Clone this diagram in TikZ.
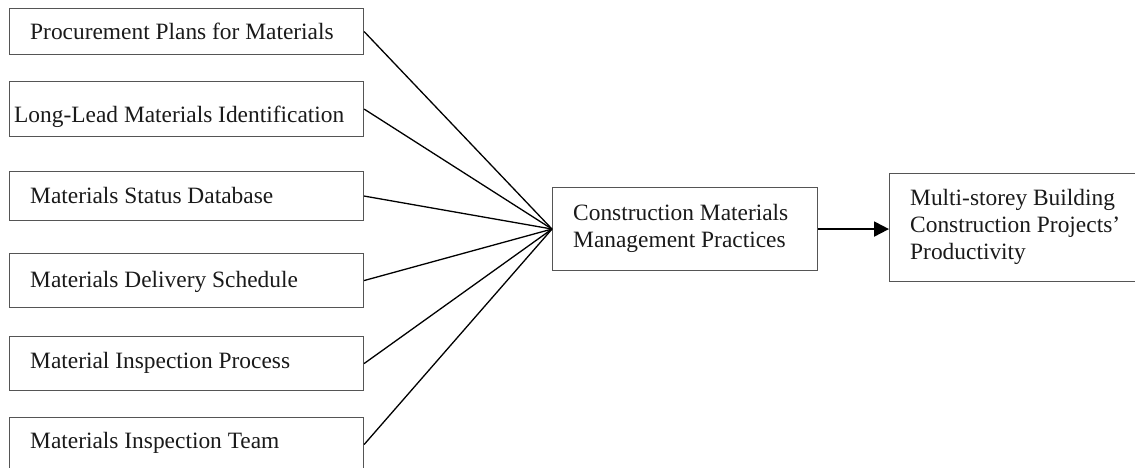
\documentclass[tikz,border=0pt]{standalone}
\usepackage{fontspec}
\setmainfont{Liberation Serif}
\usetikzlibrary{arrows.meta}
\definecolor{frame}{HTML}{555555}
\definecolor{ink}{HTML}{1A1A1A}
\tikzset{
  box/.style={draw=frame, line width=1.1pt, rectangle, inner sep=0pt, anchor=north west},
  txt/.style={text=ink, font=\fontsize{23.4}{27}\selectfont, inner sep=0pt, anchor=base west, align=left},
  link/.style={draw=black, line width=1.3pt},
  flow/.style={draw=black, line width=2pt, -{Triangle[length=15pt,width=15pt]}}
}
\begin{document}
\begin{tikzpicture}[x=1pt,y=-1pt]
  \clip (0,0) rectangle (1135,468);
  \fill[white] (0,0) rectangle (1135,468);

  % practice boxes on the left
  \node[box, minimum width=354pt, minimum height=46pt] (p1) at (9,8) {};
  \node[box, minimum width=354pt, minimum height=55pt] (p2) at (9,81) {};
  \node[box, minimum width=354pt, minimum height=49pt] (p3) at (9,171) {};
  \node[box, minimum width=354pt, minimum height=54pt] (p4) at (9,253) {};
  \node[box, minimum width=354pt, minimum height=54pt] (p5) at (9,336) {};
  \node[box, minimum width=354pt, minimum height=54pt] (p6) at (9,417) {};

  \node[txt] (t1) at (30,40) {Procurement Plans for Materials};
  \node[txt] (t2) at (14,123) {Long-Lead Materials Identification};
  \node[txt] (t3) at (30,203) {Materials Status Database};
  \node[txt] (t4) at (30,287) {Materials Delivery Schedule};
  \node[txt] (t5) at (30,368) {Material Inspection Process};
  \node[txt] (t6) at (30,448) {Materials Inspection Team};

  % central construct (base anchor sits on the last line)
  \node[box, minimum width=265pt, minimum height=83pt] (cm) at (552,187) {};
  \node[txt] (tc) at (573,247) {Construction Materials\\Management Practices};

  % outcome
  \node[box, minimum width=270pt, minimum height=108pt] (out) at (889,173) {};
  \node[txt] (to) at (910,259) {Multi-storey Building\\Construction Projects’\\Productivity};

  % connectors
  \foreach \p in {p1,p2,p3,p4,p5,p6}
    \draw[link] (\p.east) -- (cm.west);
  \draw[flow] (cm.east) -- (out.west |- cm.east);
\end{tikzpicture}
\end{document}
